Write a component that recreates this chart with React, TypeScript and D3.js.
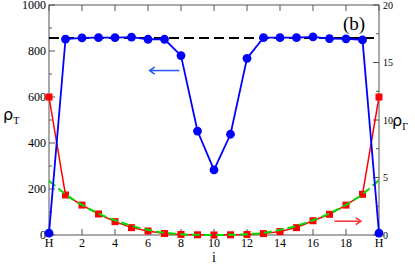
import React, { useRef, useEffect } from "react";
import * as d3 from "d3";

// site index along the chain (0 and 20 are the H ends)
const sites = d3.range(0, 21);
const xTickLabels = ["H", "2", "4", "6", "8", "10", "12", "14", "16", "18", "H"];

// rho_T, left axis
const rhoT = [
  8, 852, 857, 858, 858, 860, 851, 851, 780, 452, 283, 438, 768, 858, 858,
  858, 861, 854, 853, 848, 8,
];
// rho_Gamma, right axis
const rhoG = [
  12.0, 3.48, 2.6, 1.83, 1.16, 0.64, 0.35, 0.13, 0.05, 0.02, 0.0, 0.02, 0.05,
  0.12, 0.3, 0.64, 1.24, 1.8, 2.6, 3.54, 12.0,
];
// fitted curve (green dashes)
const rhoGFit = [
  4.72, 3.55, 2.62, 1.88, 1.28, 0.8, 0.45, 0.2, 0.07, 0.02, 0.0, 0.02, 0.07,
  0.2, 0.45, 0.8, 1.28, 1.88, 2.62, 3.55, 4.78,
];
const bulkLevel = 857;

const W = 415;
const H = 265;

const App = () => {
  const ref = useRef<SVGSVGElement>(null);

  useEffect(() => {
    if (!ref.current) return;
    const margin = { top: 5, right: 36, bottom: 30, left: 49 };
    const width = W - margin.left - margin.right;
    const height = H - margin.top - margin.bottom;

    const svg = d3.select(ref.current);
    svg.selectAll("*").remove();
    const g = svg
      .append("g")
      .attr("transform", `translate(${margin.left},${margin.top})`);

    const x = d3.scaleLinear().domain([0, 20]).range([0, width]);
    const yL = d3.scaleLinear().domain([0, 1000]).range([height, 0]);
    const yR = d3.scaleLinear().domain([0, 20]).range([height, 0]);

    const font = "'Liberation Serif', 'DejaVu Serif', serif";
    const axisColor = "#555";

    // frame
    g.append("rect")
      .attr("width", width)
      .attr("height", height)
      .attr("fill", "none")
      .attr("stroke", axisColor)
      .attr("stroke-width", 1);

    // x ticks (inward, bottom and top)
    const xt = d3.range(0, 21, 2);
    g.selectAll(".xtb")
      .data(xt)
      .join("line")
      .attr("class", "xtb")
      .attr("x1", (d) => x(d))
      .attr("x2", (d) => x(d))
      .attr("y1", height)
      .attr("y2", height - 6)
      .attr("stroke", axisColor);
    g.selectAll(".xtt")
      .data(xt)
      .join("line")
      .attr("class", "xtt")
      .attr("x1", (d) => x(d))
      .attr("x2", (d) => x(d))
      .attr("y1", 0)
      .attr("y2", 6)
      .attr("stroke", axisColor);
    g.selectAll(".xl")
      .data(xt)
      .join("text")
      .attr("class", "xl")
      .attr("x", (d) => x(d))
      .attr("y", height + 12)
      .attr("text-anchor", "middle")
      .attr("font-family", font)
      .attr("font-size", 12)
      .text((d, i) => xTickLabels[i]);

    // left axis
    const lt = d3.range(0, 1001, 100);
    g.selectAll(".lt")
      .data(lt)
      .join("line")
      .attr("class", "lt")
      .attr("x1", 0)
      .attr("x2", (d) => (d % 200 === 0 ? 6 : 3))
      .attr("y1", (d) => yL(d))
      .attr("y2", (d) => yL(d))
      .attr("stroke", axisColor);
    g.selectAll(".ll")
      .data(d3.range(0, 1001, 200))
      .join("text")
      .attr("class", "ll")
      .attr("x", -3)
      .attr("y", (d) => yL(d))
      .attr("dy", "0.35em")
      .attr("text-anchor", "end")
      .attr("font-family", font)
      .attr("font-size", 12)
      .text((d) => d);

    // right axis
    const rt = d3.range(0, 20.1, 2.5);
    g.selectAll(".rt")
      .data(rt)
      .join("line")
      .attr("class", "rt")
      .attr("x1", width)
      .attr("x2", (d) => width - (d % 5 === 0 ? 6 : 3))
      .attr("y1", (d) => yR(d))
      .attr("y2", (d) => yR(d))
      .attr("stroke", axisColor);
    g.selectAll(".rl")
      .data(d3.range(0, 21, 5))
      .join("text")
      .attr("class", "rl")
      .attr("x", width + 4)
      .attr("y", (d) => yR(d))
      .attr("dy", "0.35em")
      .attr("font-family", font)
      .attr("font-size", 10)
      .text((d) => d);

    // bulk level
    g.append("line")
      .attr("x1", 0)
      .attr("x2", width)
      .attr("y1", yL(bulkLevel))
      .attr("y2", yL(bulkLevel))
      .attr("stroke", "#000")
      .attr("stroke-width", 2)
      .attr("stroke-dasharray", "10,5");

    // red series
    const lineR = d3
      .line<number>()
      .x((d, i) => x(sites[i]))
      .y((d) => yR(d));
    g.append("path")
      .attr("d", lineR(rhoG))
      .attr("fill", "none")
      .attr("stroke", "#ff0000")
      .attr("stroke-width", 1.5);
    g.selectAll(".rm")
      .data(rhoG)
      .join("rect")
      .attr("class", "rm")
      .attr("x", (d, i) => x(sites[i]) - 3.5)
      .attr("y", (d) => yR(d) - 3.5)
      .attr("width", 7)
      .attr("height", 7)
      .attr("fill", "#ff0000");

    // green fit
    g.append("path")
      .attr("d", lineR.curve(d3.curveMonotoneX)(rhoGFit))
      .attr("fill", "none")
      .attr("stroke", "#00dd00")
      .attr("stroke-width", 2)
      .attr("stroke-dasharray", "8,4");

    // blue series
    const lineB = d3
      .line<number>()
      .x((d, i) => x(sites[i]))
      .y((d) => yL(d));
    g.append("path")
      .attr("d", lineB(rhoT))
      .attr("fill", "none")
      .attr("stroke", "#0000ff")
      .attr("stroke-width", 1.8);
    g.selectAll(".bm")
      .data(rhoT)
      .join("circle")
      .attr("class", "bm")
      .attr("cx", (d, i) => x(sites[i]))
      .attr("cy", (d) => yL(d))
      .attr("r", 4.4)
      .attr("fill", "#0000ff");

    // arrows
    const arrow = (x1: number, x2: number, y: number, color: string) => {
      const dir = Math.sign(x2 - x1);
      g.append("line")
        .attr("x1", x1)
        .attr("x2", x2)
        .attr("y1", y)
        .attr("y2", y)
        .attr("stroke", color)
        .attr("stroke-width", 1.5);
      g.append("path")
        .attr(
          "d",
          `M${x2 - dir * 5},${y - 3.5} L${x2},${y} L${x2 - dir * 5},${y + 3.5}`
        )
        .attr("fill", "none")
        .attr("stroke", color)
        .attr("stroke-width", 1.5);
    };
    arrow(x(7.9), x(6.1), yL(715), "#2255ff");
    arrow(x(17.3), x(18.9), yL(60), "#ff3030");

    // labels
    svg
      .append("text")
      .attr("x", 343)
      .attr("y", 30)
      .attr("font-family", font)
      .attr("font-size", 19)
      .text("(b)");
    svg
      .append("text")
      .attr("x", margin.left + x(10))
      .attr("y", 262)
      .attr("text-anchor", "middle")
      .attr("font-family", font)
      .attr("font-size", 14)
      .text("i");
    const ylab = (xp: number, yp: number, sub: string) => {
      const t = svg
        .append("text")
        .attr("x", xp)
        .attr("y", yp)
        .attr("font-family", "'DejaVu Sans', sans-serif")
        .attr("font-size", 16);
      t.append("tspan").text("ρ");
      t.append("tspan")
        .attr("dy", 4)
        .attr("font-size", 10)
        .attr("font-family", font)
        .text(sub);
    };
    ylab(3, 120, "T");
    ylab(392, 126, "Γ");
  }, []);

  return (
    <svg
      ref={ref}
      width={W}
      height={H}
      style={{ position: "absolute", left: 0, top: 0, background: "#fff" }}
    />
  );
};

export default App;
